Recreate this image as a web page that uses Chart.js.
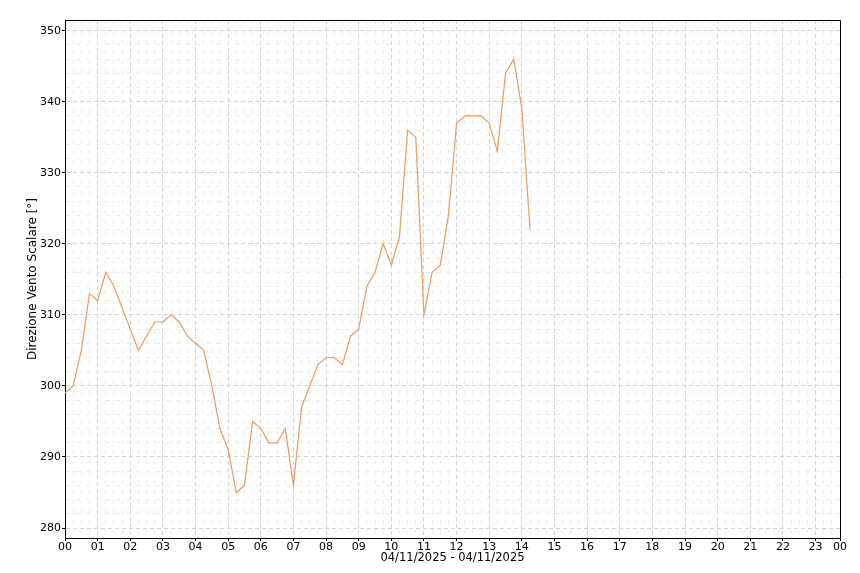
<!DOCTYPE html>
<html>
<head>
<meta charset="utf-8">
<script src="https://cdn.jsdelivr.net/npm/chart.js@4/dist/chart.umd.min.js"></script>
<style>
  html, body { margin: 0; padding: 0; background: #fff; }
  #wrap { width: 860px; height: 573px; }
</style>
</head>
<body>
<div id="wrap"><canvas id="windChart" width="860" height="573"></canvas></div>
<script>
// 04/11/2025, one reading every 15 minutes
const times = [
    '00:00', '00:15', '00:30', '00:45', '01:00', '01:15', '01:30', '01:45',
    '02:00', '02:15', '02:30', '02:45', '03:00', '03:15', '03:30', '03:45',
    '04:00', '04:15', '04:30', '04:45', '05:00', '05:15', '05:30', '05:45',
    '06:00', '06:15', '06:30', '06:45', '07:00', '07:15', '07:30', '07:45',
    '08:00', '08:15', '08:30', '08:45', '09:00', '09:15', '09:30', '09:45',
    '10:00', '10:15', '10:30', '10:45', '11:00', '11:15', '11:30', '11:45',
    '12:00', '12:15', '12:30', '12:45', '13:00', '13:15', '13:30', '13:45',
    '14:00', '14:15'
];
const direction = [
    299, 300, 305, 313, 312, 316, 314, 311,
    308, 305, 307, 309, 309, 310, 309, 307,
    306, 305, 300, 294, 291, 285, 286, 295,
    294, 292, 292, 294, 286, 297, 300, 303,
    304, 304, 303, 307, 308, 314, 316, 320,
    317, 321, 336, 335, 310, 316, 317, 324,
    337, 338, 338, 338, 337, 333, 344, 346,
    339, 322
];
const hourLabels = ['00', '01', '02', '03', '04', '05', '06', '07', '08', '09', '10', '11',
    '12', '13', '14', '15', '16', '17', '18', '19', '20', '21', '22', '23', '00'];
const yTickValues = [280, 290, 300, 310, 320, 330, 340, 350];

const xTitle = '04/11/2025 - 04/11/2025';
const yTitle = 'Direzione Vento Scalare [°]';

const toHours = t => {
    const parts = t.split(':');
    return Number(parts[0]) + Number(parts[1]) / 60;
};

const points = times.map((t, i) => ({ x: toHours(t), y: direction[i] }));

const isMajorX = v => Math.abs(v - Math.round(v)) < 1e-6 || v > 23.7;
const isMajorY = v => yTickValues.includes(v);

const font = { family: 'DejaVu Sans', size: 11 };

const framePlugin = {
    id: 'frame',
    afterDraw(chart) {
        const { ctx, chartArea } = chart;
        ctx.save();
        ctx.strokeStyle = '#000';
        ctx.lineWidth = 1;
        ctx.beginPath();
        ctx.moveTo(Math.round(chartArea.left) + 0.5, Math.round(chartArea.top) + 0.5);
        ctx.lineTo(Math.round(chartArea.right) + 0.5, Math.round(chartArea.top) + 0.5);
        ctx.lineTo(Math.round(chartArea.right) + 0.5, Math.round(chartArea.bottom) + 0.5);
        ctx.stroke();
        ctx.restore();
    }
};

const config = {
    type: 'line',
    data: {
        datasets: [{
            label: yTitle,
            data: points,
            borderColor: '#f2995c',
            borderWidth: 1.2,
            pointRadius: 0,
            tension: 0,
            fill: false
        }]
    },
    options: {
        responsive: false,
        animation: false,
        events: [],
        layout: { padding: { top: 20, right: 20, left: 0, bottom: 0 } },
        plugins: {
            legend: { display: false },
            tooltip: { enabled: false }
        },
        scales: {
            x: {
                type: 'linear',
                min: 0,
                max: 23.75,
                afterBuildTicks: scale => {
                    const ticks = [];
                    for (let i = 0; i <= 95; i++) ticks.push({ value: i * 0.25 });
                    scale.ticks = ticks;
                },
                afterFit: scale => { scale.height = 35; },
                ticks: {
                    autoSkip: false,
                    maxRotation: 0,
                    padding: 0,
                    color: '#000',
                    font: font,
                    callback: v => {
                        if (v > 23.7) return hourLabels[24];
                        return Math.abs(v - Math.round(v)) < 1e-6 ? hourLabels[Math.round(v)] : '';
                    }
                },
                grid: {
                    color: c => (c.tick && isMajorX(c.tick.value)) ? '#d4d4d4' : '#ebebeb',
                    tickColor: c => (c.tick && isMajorX(c.tick.value)) ? '#000' : 'rgba(0,0,0,0)',
                    tickLength: 3,
                    lineWidth: 1
                },
                border: {
                    display: true,
                    color: '#000',
                    width: 1,
                    dash: c => (c.tick && isMajorX(c.tick.value)) ? [4, 3] : [4, 6]
                },
                title: {
                    display: true,
                    text: xTitle,
                    color: '#000',
                    font: { family: 'DejaVu Sans', size: 11.5 },
                    padding: { top: 0, bottom: 8 }
                }
            },
            y: {
                type: 'linear',
                min: 278.6,
                max: 351.5,
                afterBuildTicks: scale => {
                    const ticks = [];
                    for (let v = 280; v <= 350; v += 2) ticks.push({ value: v });
                    scale.ticks = ticks;
                },
                afterFit: scale => { scale.width = 65; },
                ticks: {
                    autoSkip: false,
                    padding: 1,
                    color: '#000',
                    font: font,
                    callback: v => isMajorY(v) ? String(v) : ''
                },
                grid: {
                    color: c => (c.tick && isMajorY(c.tick.value)) ? '#d4d4d4' : '#ebebeb',
                    tickColor: c => (c.tick && isMajorY(c.tick.value)) ? '#000' : 'rgba(0,0,0,0)',
                    tickLength: 3,
                    lineWidth: 1
                },
                border: {
                    display: true,
                    color: '#000',
                    width: 1,
                    dash: c => (c.tick && isMajorY(c.tick.value)) ? [4, 3] : [4, 6]
                },
                title: {
                    display: true,
                    text: yTitle,
                    color: '#000',
                    font: { family: 'DejaVu Sans', size: 12 },
                    padding: { top: 26, bottom: 0 }
                }
            }
        }
    },
    plugins: [framePlugin]
};

const windChart = new Chart(document.getElementById('windChart'), config);
</script>
</body>
</html>
